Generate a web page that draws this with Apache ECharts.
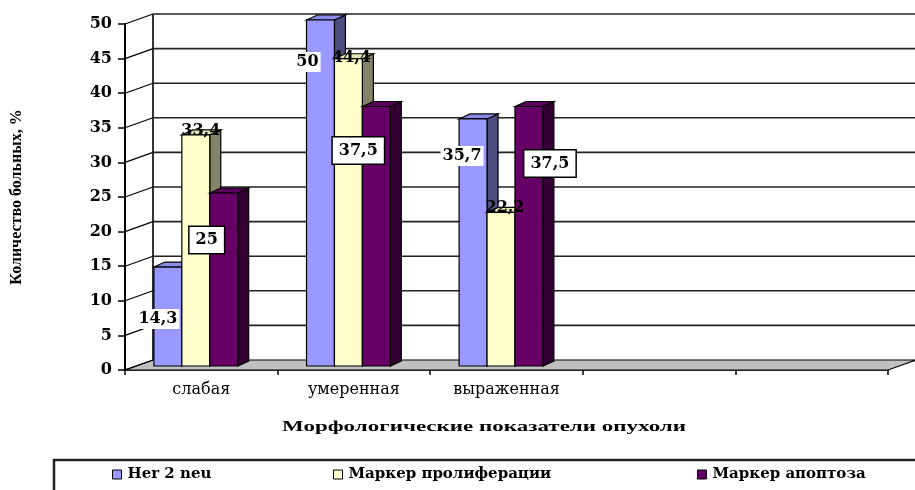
<!DOCTYPE html>
<html>
<head>
<meta charset="utf-8">
<script src="https://cdn.jsdelivr.net/npm/echarts@6/dist/echarts.min.js"></script>
<style>
  html, body { margin: 0; padding: 0; background: #fff; }
  #chart { width: 915px; height: 490px; }
</style>
</head>
<body>
<div id="chart"></div>
<script>
// Categories on the x axis (two trailing empty slots keep the floor long)
const categories = ['слабая', 'умеренная', 'выраженная', '', ''];

// Share of patients, % (one value per category)
const her2Values = [14.3, 50, 35.7];
const prolifValues = [33.4, 44.4, 22.2];
const apoptValues = [25, 37.5, 37.5];

const seriesNames = ['Her 2 neu', 'Маркер пролиферации', 'Маркер апоптоза'];
const yTickValues = [0, 5, 10, 15, 20, 25, 30, 35, 40, 45, 50];

const allValues = [her2Values, prolifValues, apoptValues];

// Face colours for each series: front, side, top
const palette = [
  { front: '#9999FF', side: '#4D4D80', top: '#8A8AE8' },
  { front: '#FFFFCC', side: '#84846A', top: '#E8E8B8' },
  { front: '#660066', side: '#330033', top: '#5A005A' }
];

// Label look per series and small nudges from the bar's front-top centre
const labelStyles = [
  { backgroundColor: '#fff', borderWidth: 0, padding: [2, 2] },
  { backgroundColor: 'transparent', borderWidth: 0, padding: [0, 0] },
  { backgroundColor: '#fff', borderColor: '#000', borderWidth: 1.5, padding: [5, 6] }
];
const labelNudge = [
  [[-10, 52], [-13, 42], [-11, 37]],
  [[5, -4], [3, -1], [4, -5]],
  [[-17, 47], [-18, 44], [21, 57]]
];

const DEPTH = [28, -10];      // back wall offset
const BAR_SIDE = [11, -5];    // bar side/top depth
const BAR_SHIFT = -4;         // bars sit slightly behind the front axis
const BAR_FRAC = 0.183;       // bar width as share of category band

const chart = echarts.init(document.getElementById('chart'), null, { renderer: 'canvas' });

function barGeom(api, ci, si, v) {
  const band = api.size([1, 0])[0];
  const w = band * BAR_FRAC;
  const c = api.coord([ci, 0]);
  const base = c[1] + BAR_SHIFT;
  const top = api.coord([ci, v])[1] + BAR_SHIFT;
  const total = 3 * w + BAR_SIDE[0];
  const x0 = c[0] - total / 2 + si * w;
  return { x0, w, top, base };
}

function wallRender(params, api) {
  const r = params.coordSys;
  const left = r.x, right = r.x + r.width;
  const y0 = api.coord([0, 0])[1];
  const [dx, dy] = DEPTH;
  const kids = [];
  // floor
  kids.push({
    type: 'polygon',
    shape: { points: [[left, y0], [right, y0], [right + dx, y0 + dy], [left + dx, y0 + dy]] },
    style: { fill: '#C0C0C0', stroke: '#000', lineWidth: 1.2 }
  });
  yTickValues.forEach(v => {
    const yv = api.coord([0, v])[1];
    if (v > 0) {
      kids.push({
        type: 'line',
        shape: { x1: left + dx, y1: yv + dy, x2: right + dx, y2: yv + dy },
        style: { stroke: '#222', lineWidth: 1.6 }
      });
    }
    kids.push({
      type: 'line',
      shape: { x1: left, y1: yv, x2: left + dx, y2: yv + dy },
      style: { stroke: '#000', lineWidth: 1.2 }
    });
  });
  const yTop = api.coord([0, 50])[1];
  kids.push({
    type: 'line',
    shape: { x1: left + dx, y1: y0 + dy, x2: left + dx, y2: yTop + dy },
    style: { stroke: '#000', lineWidth: 1.6 }
  });
  return { type: 'group', children: kids };
}

function makeBarRender(si) {
  return function (params, api) {
    const ci = api.value(0), v = api.value(1);
    const { x0, w, top, base } = barGeom(api, ci, si, v);
    const [sx, sy] = BAR_SIDE;
    const col = palette[si];
    return {
      type: 'group',
      children: [
        {
          type: 'polygon',
          shape: { points: [[x0 + w, top], [x0 + w + sx, top + sy], [x0 + w + sx, base + sy], [x0 + w, base]] },
          style: { fill: col.side, stroke: '#000', lineWidth: 1.2 }
        },
        {
          type: 'polygon',
          shape: { points: [[x0, top], [x0 + sx, top + sy], [x0 + w + sx, top + sy], [x0 + w, top]] },
          style: { fill: col.top, stroke: '#000', lineWidth: 1.2 }
        },
        {
          type: 'rect',
          shape: { x: x0, y: top, width: w, height: base - top },
          style: { fill: col.front, stroke: '#000', lineWidth: 1.2 }
        }
      ]
    };
  };
}

function labelRender(params, api) {
  const ci = api.value(0), si = api.value(1), v = api.value(2);
  const { x0, w, top } = barGeom(api, ci, si, v);
  const nd = labelNudge[si][ci];
  const ls = labelStyles[si];
  return {
    type: 'text',
    x: x0 + w / 2 + nd[0],
    y: top + nd[1],
    style: Object.assign({
      text: String(v).replace('.', ','),
      font: 'bold 16px "DejaVu Serif"',
      fill: '#000',
      align: 'center',
      verticalAlign: 'middle'
    }, ls)
  };
}

const labelData = [];
allValues.forEach((arr, si) => arr.forEach((v, ci) => labelData.push([ci, si, v])));

const barSeries = allValues.map((arr, si) => ({
  type: 'custom',
  name: seriesNames[si],
  coordinateSystem: 'cartesian2d',
  clip: false,
  silent: true,
  z: 3,
  itemStyle: { color: palette[si].front, borderColor: '#000', borderWidth: 1 },
  data: arr.map((v, ci) => [ci, v]),
  renderItem: makeBarRender(si)
}));

// x-axis title stretched to the width used by the chart
const xTitle = 'Морфологические показатели опухоли';
const xTitleFont = 'bold 15px "Liberation Serif"';
const mctx = document.createElement('canvas').getContext('2d');
mctx.font = xTitleFont;
const xTitleScale = 404 / mctx.measureText(xTitle).width;

const legendX = [112, 333, 697];

chart.setOption({
  animation: false,
  backgroundColor: '#fff',
  grid: { left: 125, right: 27, top: 24, bottom: 120, containLabel: false },
  xAxis: {
    type: 'category',
    data: categories,
    axisLine: { lineStyle: { color: '#000', width: 1.5 } },
    axisTick: { show: true, interval: 0, length: 5, lineStyle: { color: '#000', width: 1.5 } },
    axisLabel: { interval: 0, margin: 12, fontFamily: 'DejaVu Serif', fontSize: 16, color: '#000' },
    splitLine: { show: false }
  },
  yAxis: {
    type: 'value',
    min: 0, max: 50, interval: 5,
    name: 'Количество больных, %',
    nameLocation: 'middle',
    nameRotate: 90,
    nameGap: 100,
    nameTextStyle: { fontFamily: 'Liberation Serif', fontWeight: 'bold', fontSize: 16, color: '#000' },
    axisLine: { show: true, lineStyle: { color: '#000', width: 2 } },
    axisTick: { show: true, length: 7, lineStyle: { color: '#000', width: 1.5 } },
    axisLabel: { margin: 13, fontFamily: 'DejaVu Serif', fontWeight: 'bold', fontSize: 16, color: '#000' },
    splitLine: { show: false }
  },
  legend: seriesNames.map((n, i) => ({
    data: [n],
    left: legendX[i],
    top: 467,
    icon: 'rect',
    itemWidth: 9,
    itemHeight: 9,
    itemGap: 5,
    selectedMode: false,
    padding: 0,
    itemStyle: { borderColor: '#000', borderWidth: 1 },
    textStyle: { fontFamily: 'DejaVu Serif', fontWeight: 'bold', fontSize: 15, color: '#000', padding: [0, 0, 0, 1] }
  })),
  graphic: [
    {
      type: 'text',
      x: 484, y: 427,
      scaleX: xTitleScale,
      style: { text: xTitle, font: xTitleFont, fill: '#000', align: 'center', verticalAlign: 'middle' }
    },
    {
      type: 'rect',
      shape: { x: 54, y: 460, width: 900, height: 40 },
      style: { fill: 'none', stroke: '#222', lineWidth: 2.5 },
      z: 0
    }
  ],
  series: [
    {
      type: 'custom',
      name: 'walls',
      coordinateSystem: 'cartesian2d',
      clip: false,
      silent: true,
      z: 1,
      data: [[0, 0]],
      renderItem: wallRender
    },
    ...barSeries,
    {
      type: 'custom',
      name: 'labels',
      coordinateSystem: 'cartesian2d',
      clip: false,
      silent: true,
      z: 5,
      data: labelData,
      renderItem: labelRender
    }
  ]
});
</script>
</body>
</html>
